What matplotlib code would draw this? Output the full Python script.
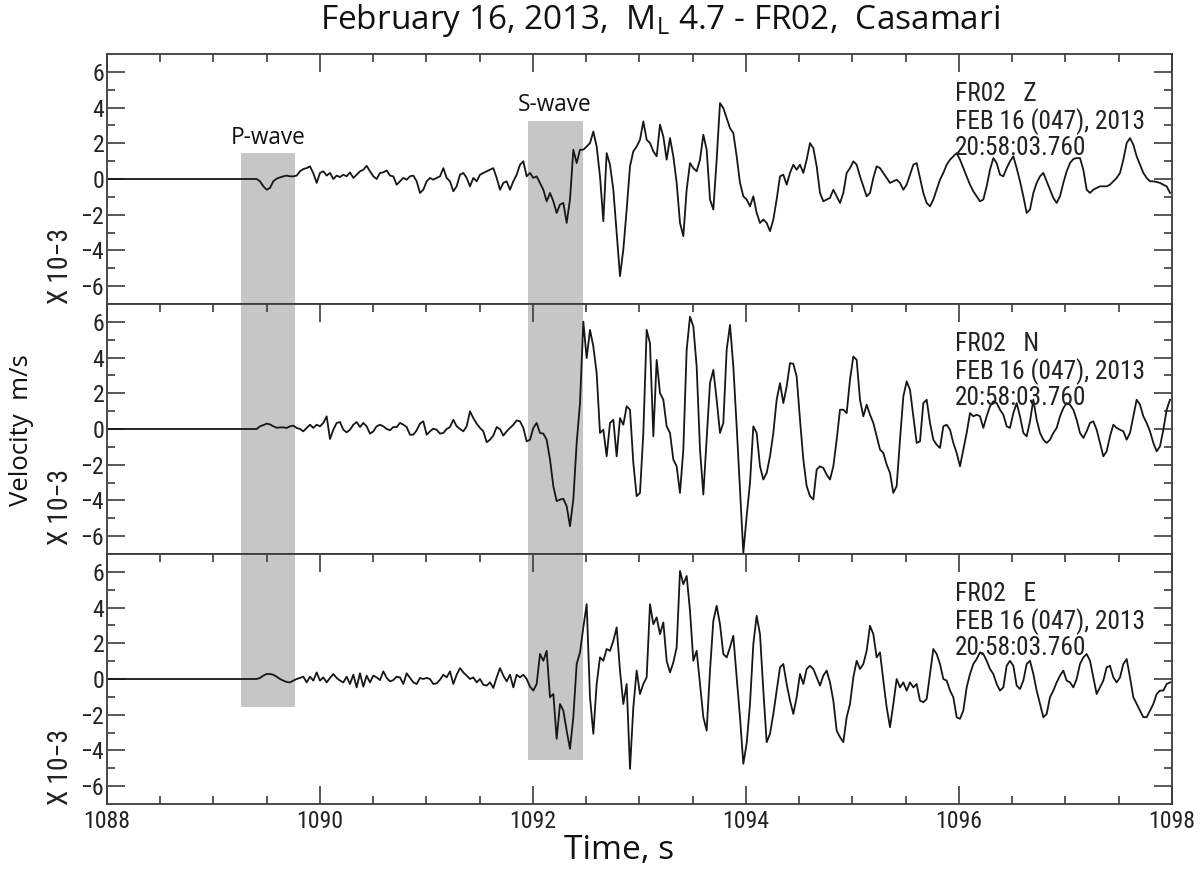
import os
import numpy as np
import matplotlib
matplotlib.use("Agg")
import matplotlib.pyplot as plt
from matplotlib import font_manager as fm
from matplotlib.patches import Rectangle
from matplotlib.ticker import FixedLocator

# ---------------- data (velocity, x 10^-3 m/s) ----------------
T0 = 1087.997          # time of first sample, s
DT = 0.0313

Z_VALUES = [
    0, 0, 0, 0, 0, 0, 0, 0, 0, 0, 0, 0, 0, 0, 0, 0, 0, 0, 0, 0,
    0, 0, 0, 0, 0, 0, 0, 0, 0, 0, 0, 0, 0, 0, 0, 0, 0, 0, 0, 0,
    0, 0, 0, 0, 0, 0, -0.13, -0.41, -0.60, -0.50, -0.13, 0.02, 0.09, 0.15, 0.19, 0.15,
    0.15, 0.19, 0.43, 0.56, 0.61, 0.71, 0.32, -0.22, 0.34, 0.43, 0.19, 0.34, 0.00, 0.19,
    0.11, 0.24, 0.15, 0.37, 0.06, 0.24, 0.43, 0.52, 0.74, 0.43, 0.15, 0.00, 0.34, 0.37,
    0.48, 0.19, 0.15, -0.32,
    -0.13, 0.06, -0.04, 0.15, 0.19, -0.13, -0.78, -0.60, -0.13, 0.06,
    -0.04, 0.06, 0.15, 0.61, 0.06, -0.13, -0.69, -0.41, 0.24, 0.34,
    0.06, -0.41, 0.06, -0.13, 0.24, 0.34, 0.43, 0.52, 0.61, 0.06,
    -0.60, -0.22, -0.13, -0.60, -0.13, 0.24, 0.80, 0.99, 0.15, 0.34,
    0.06, 0.15, -0.22, -0.60, -1.25, -0.78, -1.25, -1.90, -1.43, -1.34,
    -2.46, -1.15, 1.64, 0.89, 1.64, 1.64, 1.82, 2.01, 2.66, 1.82,
    0.15, -2.36, 1.45, 0.80, -0.60, -3.02, -5.44, -3.95, -1.71, 0.71,
    1.55, 1.82, 2.20, 3.22, 2.20, 2.01, 1.55, 1.27, 3.04, 2.38,
    1.08, 2.29, 1.27, -0.22, -2.46, -3.20, -0.60, 0.89, 0.61, 0.43,
    1.08, 2.48, 1.64, -1.15, -1.71, 1.08, 4.25, 3.97, 3.41, 2.85,
    2.57, 1.27, -0.22, -0.97, -1.15, -1.53, -0.97, -1.90, -2.46, -2.27,
    -2.46, -2.92, -2.27, -1.15,
    0.15, 0.24, -0.32, 0.34, 0.80, 0.52, 0.80, 0.34, 1.08, 2.01,
    1.73, 0.71, -0.78, -1.25, -1.15, -1.06, -0.60, -0.97, -1.34, -0.78,
    0.34, 0.61, 0.99, 0.80, 0.15, -0.41, -0.97, -0.78, 0.06, 0.71,
    0.61, 0.34, 0.06, -0.22, -0.13, -0.04, -0.22, -0.60, -0.32, 0.24,
    0.80, 0.89, 0.06, -0.78, -1.34, -1.53, -1.15, -0.60, -0.04, 0.34,
    0.80, 1.08, 1.27, 1.45, 1.08, 0.61, 0.15, -0.32, -0.69, -0.97,
    -1.25, -1.15, -0.41, 0.52, 1.17, 0.89, 0.24, 0.15, 0.61, 0.99,
    1.27, 0.61, -0.13, -0.97, -1.90, -1.71, -0.78, -0.22, 0.15, 0.34,
    -0.13, -0.60, -1.06, -1.34, -0.97, -0.22, 0.43, 0.89, 1.12, 1.17,
    1.17, 0.52, -0.60, -0.78, -0.60, -0.50, -0.41, -0.41, -0.41, -0.32,
    -0.13, 0.06, 0.34, 1.08, 2.01, 2.29, 1.92, 1.27, 0.80, 0.34,
    0.06, -0.13, -0.13, -0.17, -0.22, -0.32, -0.41, -0.78,
]

N_VALUES = [
    0, 0, 0, 0, 0, 0, 0, 0, 0, 0, 0, 0, 0, 0, 0, 0, 0, 0, 0, 0,
    0, 0, 0, 0, 0, 0, 0, 0, 0, 0, 0, 0, 0, 0, 0, 0, 0, 0, 0, 0,
    0, 0, 0, 0, 0, 0, 0.15, 0.22, 0.30, 0.26, 0.15, 0.07, 0.09, 0.09, 0.06, 0.15,
    0.19, 0.06, 0.00, -0.13, 0.06, 0.24, 0.06, 0.24, 0.15, 0.34, 0.71, -0.56, -0.04, 0.34,
    0.39, -0.04, -0.19, -0.04, 0.24, 0.39, 0.11, 0.34, 0.15, -0.26, -0.13, 0.15, 0.24, 0.15,
    0.00, -0.07, 0.11, 0.11,
    0.34, 0.24, 0.11, -0.32, -0.32, -0.07, 0.30, 0.43, -0.32, -0.13,
    0.02, -0.04, -0.26, -0.22, 0.00, 0.11, 0.52, 0.15, 0.00, -0.13,
    0.15, 0.99, 0.61, 0.30, 0.06, -0.13, -0.74, -0.60, -0.37, 0.11,
    0.00, -0.37, -0.13, 0.06, 0.24, 0.48, 0.43, 0.06, -0.69, -0.60,
    0.06, 0.34, -0.22, -0.26, -0.60, -1.71, -3.20, -4.04, -3.95, -3.91,
    -4.32, -5.44, -3.95, -0.78, 1.45, 6.01, 3.97, 5.55, 4.62, 3.13,
    -0.22, -0.04, -1.53, 0.34, 0.52, -1.53, 0.61, 0.24, 1.27, 1.08,
    -1.90, -3.76, -3.58, -0.22, 5.55, 4.80, -0.41, 3.87, 2.01, 1.64,
    0.15, -0.22, -1.71, -2.09, -3.58, -1.15, 4.43, 6.29, 5.74, 3.50,
    -1.15, -3.67, -0.60, 2.57, 3.31, 1.64, -0.22, 0.34, 4.43, 5.83,
    3.50, 0.15, -3.39, -6.93, -4.88, -3.02, 0.15, -0.22, -2.09, -2.83,
    -2.46, -1.53, -0.22, 1.64,
    2.57, 1.45, 2.38, 3.69, 3.65, 2.94, 0.52, -1.71, -3.20, -3.76,
    -3.95, -2.27, -2.09, -2.18, -2.55, -2.83, -2.09, -0.60, 1.08, 1.08,
    0.89, 2.76, 4.06, 3.87, 1.64, 0.71, 1.36, 0.80, 0.34, -0.41,
    -1.15, -1.34, -1.99, -2.46, -3.58, -3.20, -0.60, 1.82, 2.66, 2.20,
    0.71, -0.78, -0.69, 1.45, 1.64, 0.34, -0.60, -0.88, -1.06, 0.15,
    0.24, -0.04, -0.78, -1.34, -2.09, -1.15, -0.22, 0.89, 0.71, 0.80,
    0.71, 0.06, 0.71, 1.27, 1.55, 1.45, 1.08, 0.80, 0.15, 0.06,
    0.89, 1.45, 0.71, -0.22, -0.41, 0.43, 1.64, 0.52, -0.22, -0.60,
    -0.78, -0.60, -0.22, 0.06, 0.71, 1.17, 1.45, 1.36, 1.08, 0.52,
    -0.22, -0.50, -0.13, 0.34, 0.43, -0.04, -0.78, -1.53, -1.25, -0.41,
    0.24, 0.06, -0.04, -0.13, -0.60, -0.22, 0.71, 1.64, 1.36, 0.71,
    0.34, -0.13, -0.78, -1.25, -0.97, -0.04, 1.08, 1.64,
]

E_VALUES = [
    0, 0, 0, 0, 0, 0, 0, 0, 0, 0, 0, 0, 0, 0, 0, 0, 0, 0, 0, 0,
    0, 0, 0, 0, 0, 0, 0, 0, 0, 0, 0, 0, 0, 0, 0, 0, 0, 0, 0, 0,
    0, 0, 0, 0, 0, 0, 0.06, 0.19, 0.28, 0.28, 0.24, 0.13, 0.00, -0.09, -0.17, -0.19,
    -0.09, 0.00, 0.06, 0.13, -0.19, 0.13, -0.09, 0.37, -0.09, 0.09, -0.19, 0.06, 0.28, 0.06,
    -0.09, -0.19, 0.13, -0.28, 0.24, -0.47, 0.32, -0.43, 0.19, -0.19, 0.19, 0.09, -0.06, 0.43,
    0.06, -0.13, -0.06, 0.13,
    0.09, -0.28, 0.32, 0.06, -0.19, -0.28, 0.06, 0.00, 0.06, 0.00,
    -0.28, -0.24, -0.04, 0.24, 0.09, 0.43, -0.28, 0.24, 0.61, 0.37,
    0.19, 0.00, 0.09, -0.19, 0.00, -0.32, -0.37, -0.19, -0.50, 0.09,
    0.61, 0.19, -0.13, 0.24, -0.47, 0.24, 0.09, 0.24, 0.00, -0.43,
    -0.65, -0.28, 1.40, 1.02, 1.58, -1.02, -0.84, -3.35, -1.40, -1.77,
    -2.89, -3.91, -2.14, 0.84, 1.49, 2.89, 4.19, -1.02, -3.07, -0.28,
    1.21, 1.02, 1.68, 1.58, 2.14, 2.89, 0.47, -1.40, -0.28, -5.03,
    -1.58, 0.47, -0.84, -0.28, 0.09, 4.19, 3.07, 3.45, 2.51, 3.17,
    1.02, 0.37, 0.93, 1.77, 6.05, 5.31, 5.77, 3.82, 1.02, 1.58,
    -0.28, -2.14, -2.89, 0.47, 3.26, 4.10, 3.07, 1.40, 1.21, 1.77,
    2.42, 0.09, -2.14, -4.75, -3.60, -1.40, 1.96, 3.54, 2.51, -0.65,
    -3.54, -3.07, -1.96, -0.65,
    0.65, 0.84, -0.28, -1.21, -1.96, -1.02, 0.28, -0.28, 0.56, 0.74,
    0.56, 0.09, -0.37, 0.19, 0.47, -0.19, -1.21, -2.89, -3.26, -3.54,
    -2.14, -1.40, 0.09, 1.02, 0.56, 0.84, 1.58, 2.98, 2.51, 1.21,
    1.49, -0.09, -1.58, -2.70, -1.40, 0.00, -0.47, -0.19, -0.65, -0.19,
    -0.47, -0.28, -1.21, -1.30, -1.12, 0.28, 1.68, 1.40, 0.84, 0.00,
    -0.09, -0.65, -1.02, -2.14, -2.23, -1.77, -0.47, 0.28, 0.84, 1.12,
    1.49, 1.40, 1.02, 0.56, 0.28, -0.28, -0.65, -0.47, 0.74, 1.02,
    0.74, -0.37, -0.56, -0.09, 0.84, 1.02, 0.28, -0.65, -1.40, -2.14,
    -1.96, -1.02, -0.65, -0.19, 0.19, 0.47, -0.09, -0.19, -0.47, 0.00,
    0.84, 1.21, 1.40, 1.02, 0.09, -0.84, -0.47, -0.09, 0.65, 0.74,
    0.09, -0.19, 0.09, 0.84, 1.12, 0.09, -1.02, -1.40, -1.77, -2.14,
    -2.14, -1.77, -1.40, -0.84, -0.65, -0.65, -0.28, -0.19,
]

COMPONENTS = ["Z", "N", "E"]
STATION = "FR02"
DATE_LINE = "FEB 16 (047), 2013"
TIME_LINE = "20:58:03.760"
P_WINDOW = (1089.255, 1089.770)       # s
S_WINDOW = (1091.956, 1092.467)       # s
P_BOX_TOP, P_BOX_BOTTOM = 1.45, -1.55   # top in first panel, bottom in last panel
S_BOX_TOP, S_BOX_BOTTOM = 3.27, -4.56
X_RANGE = (1088, 1098)
Y_RANGE = (-7, 7)
X_MAJOR = [1088, 1090, 1092, 1094, 1096, 1098]
Y_MAJOR = [-6, -4, -2, 0, 2, 4, 6]
Y_MINOR = [-5, -3, -1, 1, 3, 5]


# ---------------- fonts ----------------
def find_narrow_font():
    files = [f.fname for f in fm.fontManager.ttflist]
    prefs = ["liberationsansnarrow-regular", "robotocondensed-regular",
             "dejavusanscondensed.ttf", "opensans_condensed-regular",
             "opensanscondensed-regular", "notosans-condensed.ttf",
             "notosanscondensed-regular"]
    for p in prefs:
        for fn in files:
            if p in os.path.basename(fn).lower():
                return fn
    for fn in files:
        b = os.path.basename(fn).lower()
        if ("condensed" in b or "narrow" in b) and not any(
                k in b for k in ("bold", "italic", "oblique", "light", "thin", "black", "medium", "semi")):
            return fn
    return None


NARROW_FILE = find_narrow_font()


def narrow_fp(size):
    if NARROW_FILE:
        return fm.FontProperties(fname=NARROW_FILE, size=size)
    return fm.FontProperties(family="DejaVu Sans", size=size)


SANS = ["Open Sans", "DejaVu Sans"]
plt.rcParams["mathtext.fontset"] = "custom"
plt.rcParams["mathtext.rm"] = "Open Sans"

TRACE_COLOR = "#161616"
AXIS_COLOR = "#3c3c3c"
TEXT_COLOR = "#222222"
BOX_COLOR = "#c6c6c6"

fig = plt.figure(figsize=(12.02, 8.72), dpi=100)
renderer = fig.canvas.get_renderer()


def px_length(text, fp):
    tmp = fig.text(0, 0, text, fontproperties=fp)
    bb = tmp.get_window_extent(renderer)
    tmp.remove()
    return bb.width


def fitted_narrow(text, target_px):
    return 16 * target_px / px_length(text, narrow_fp(16))


TICK_SIZE = fitted_narrow("1088", 47)
ANNOT_SIZE = fitted_narrow(DATE_LINE, 190)
UNIT_SIZE = fitted_narrow("X 10\u22123", 76)

left, width = 0.089, 0.886
panel_h = 250 / 872
bottom0 = 68 / 872

traces = [Z_VALUES, N_VALUES, E_VALUES]
axes = []
for i, (comp, vals) in enumerate(zip(COMPONENTS, traces)):
    ax = fig.add_axes([left, bottom0 + (2 - i) * panel_h, width, panel_h])
    axes.append(ax)
    v = np.asarray(vals, dtype=float)
    t = T0 + DT * np.arange(len(v))
    ax.plot(t, v, color=TRACE_COLOR, lw=1.3, zorder=3)
    ax.set_xlim(*X_RANGE)
    ax.set_ylim(*Y_RANGE)

    for (w0, w1), top, bot in ((P_WINDOW, P_BOX_TOP, P_BOX_BOTTOM),
                               (S_WINDOW, S_BOX_TOP, S_BOX_BOTTOM)):
        y_hi = top if i == 0 else Y_RANGE[1]
        y_lo = bot if i == 2 else Y_RANGE[0]
        ax.add_patch(Rectangle((w0, y_lo), w1 - w0, y_hi - y_lo,
                               facecolor=BOX_COLOR, edgecolor="none", zorder=1))

    ax.xaxis.set_major_locator(FixedLocator(X_MAJOR))
    ax.xaxis.set_minor_locator(FixedLocator(
        [x + 0.5 * k for x in X_MAJOR[:-1] for k in (1, 2, 3)]))
    ax.yaxis.set_major_locator(FixedLocator(Y_MAJOR))
    ax.yaxis.set_minor_locator(FixedLocator(Y_MINOR))
    ax.tick_params(which="both", direction="in", top=True, right=True, left=True,
                   bottom=(i == 2), labelbottom=(i == 2), color=AXIS_COLOR,
                   width=1.2, labelcolor=TEXT_COLOR)
    ax.tick_params(which="major", length=13)
    ax.tick_params(which="minor", length=6)
    ax.tick_params(axis="y", pad=2)
    ax.tick_params(axis="x", pad=4)
    ax.set_xticklabels([str(x) for x in X_MAJOR], fontproperties=narrow_fp(TICK_SIZE))
    ax.set_yticklabels([f"{y}".replace("-", "\u2212") for y in Y_MAJOR],
                       fontproperties=narrow_fp(TICK_SIZE))
    for s in ax.spines.values():
        s.set_color(AXIS_COLOR)
        s.set_linewidth(1.3)
        s.set_zorder(4)

    ax.text(-0.044, 0.15 if i != 1 else 0.19, "X 10\u22123", transform=ax.transAxes,
            rotation=90, ha="center", va="center", color=TEXT_COLOR,
            fontproperties=narrow_fp(UNIT_SIZE))

    tx = 1095.96
    for yv, s in ((4.74, f"{STATION}   {comp}"), (3.22, DATE_LINE), (1.76, TIME_LINE)):
        ax.text(tx, yv, s, ha="left", va="center", color=TEXT_COLOR, zorder=5,
                fontproperties=narrow_fp(ANNOT_SIZE))

pw = axes[0].text(sum(P_WINDOW) / 2, 2.29, "P-wave", ha="center", va="center",
                  fontsize=15, family=SANS, color="#111111")
sw = axes[0].text(1092.2, 4.15, "S-wave", ha="center", va="center",
                  fontsize=15, family=SANS, color="#111111")

title = fig.text(0.549, 0.977, "February 16, 2013,  M$_{\\mathrm{L}}$ 4.7 - FR02,  Casamari",
                 ha="center", va="center", fontsize=17, family=SANS, color="#111111")
ylab = fig.text(0.0183, 0.507, "Velocity  m/s", rotation=90, ha="center", va="center",
                fontsize=17, family=SANS, color="#111111")
xlab = fig.text(0.515, 0.0245, "Time, s", ha="center", va="center",
                fontsize=18, family=SANS, color="#111111")

# fit sans-serif label sizes to the reference's measured lengths
fig.canvas.draw()
for art, target, rot, others in ((pw, 75, False, [sw]), (title, 682, False, []),
                                 (ylab, 152, True, []), (xlab, 110, False, [])):
    bb = art.get_window_extent(renderer)
    length = bb.height if rot else bb.width
    if length > 0:
        new = art.get_fontsize() * target / length
        art.set_fontsize(new)
        for o in others:
            o.set_fontsize(new)

fig.savefig("out.png", dpi=100)
